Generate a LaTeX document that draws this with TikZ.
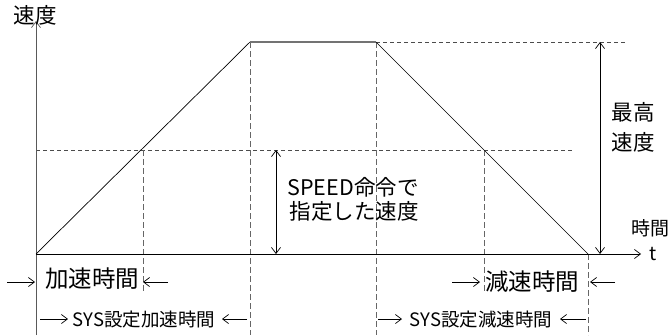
\documentclass[tikz,border=0pt]{standalone}
\usepackage{fontspec}
\setmainfont{Noto Sans CJK JP}
\usetikzlibrary{arrows.meta}
\begin{document}
\begin{tikzpicture}[x=1pt,y=-1pt,
  axisline/.style={draw=black!65, line width=0.9pt},
  curve/.style={draw=black, line width=0.7pt},
  topline/.style={draw=black!55, line width=1.3pt},
  vdash/.style={draw=black!60, line width=0.8pt, dash pattern=on 6pt off 3pt},
  hdash/.style={draw=black!70, line width=0.7pt, dash pattern=on 4pt off 3pt},
  openarr/.style={-{Straight Barb[length=6pt,width=9pt,line width=0.7pt]}, line width=0.7pt, draw=black},
  dblarr/.style={{Straight Barb[length=6pt,width=9pt,line width=0.7pt]}-{Straight Barb[length=6pt,width=9pt,line width=0.7pt]}, line width=0.8pt, draw=black},
  lbig/.style={font=\fontsize{23.5}{26}\selectfont, inner sep=0pt},
  lmid/.style={font=\fontsize{21.5}{26}\selectfont, inner sep=0pt},
  lsmall/.style={font=\fontsize{18.5}{20}\selectfont, inner sep=0pt},
  ltime/.style={font=\fontsize{19}{20}\selectfont, inner sep=0pt},
]
\useasboundingbox (0,0) rectangle (671,335);
% key points
\coordinate (O) at (36,254);
\coordinate (Ytop) at (36,21);
\coordinate (Xend) at (641,254);
\coordinate (P1) at (250,42);
\coordinate (P2) at (376,42);
\coordinate (P3) at (588,254);
\coordinate (Htop) at (625,42);
\coordinate (Mleft) at (36,150);
\coordinate (Mright) at (573,150);
\coordinate (Q1) at (143,150);
\coordinate (Q2) at (484,150);
\coordinate (Q1b) at (143,292);
\coordinate (Q2b) at (484,292);
\coordinate (P1b) at (250,335);
\coordinate (P2b) at (376,335);
\coordinate (P3b) at (588,335);
\coordinate (Obot) at (36,335);
\coordinate (Max1) at (600,42);
\coordinate (Max2) at (600,254);
\coordinate (Sp1) at (276,150);
\coordinate (Sp2) at (276,254);
% dashed guides
\path[hdash] (P2) -- (Htop);
\path[hdash] (Mleft) -- (Mright);
\path[vdash] (P1) -- (P1b);
\path[vdash] (P2) -- (P2b);
\path[vdash] (Q1) -- (Q1b);
\path[vdash] (Q2) -- (Q2b);
\path[vdash] (P3) -- (P3b);
% axes
\draw[axisline, -{Straight Barb[length=6pt,width=9pt,line width=0.7pt]}] (Obot) -- (Ytop);
\draw[line width=0.8pt, -{Straight Barb[length=6pt,width=9pt,line width=0.7pt]}] (O) -- (Xend);
% speed profile
\path[curve] (O) -- (P1);
\path[topline] (P1) -- (P2);
\path[curve] (P2) -- (P3);
% dimension arrows
\draw[dblarr] (Max1) -- (Max2);
\draw[dblarr] (Sp1) -- (Sp2);
% labels
\node[lmid] (vel) at (35,15) {速度};
\node[lmid] (max1) at (633,112) {最高};
\node[lmid] (max2) at (633,142) {速度};
\node[lmid] (sp1) at (353,187) {SPEED命令で};
\node[lmid] (sp2) at (354,211) {指定した速度};
\node[ltime] (time) at (650,228) {時間};
\node[ltime] (tlab) at (653,254) {t};
\node[lbig] (acc) at (92,279) {加速時間};
\node[lbig] (dec) at (532,282) {減速時間};
\node[lsmall] (sysacc) at (144,319) {SYS設定加速時間};
\node[lsmall] (sysdec) at (481,319) {SYS設定減速時間};
% bottom arrows
\coordinate (a1s) at (7,282); \coordinate (a1e) at (35,282);
\coordinate (a2s) at (168,282); \coordinate (a2e) at (143,282);
\coordinate (b1s) at (40,319); \coordinate (b1e) at (68,319);
\coordinate (b2s) at (247,319); \coordinate (b2e) at (222,319);
\coordinate (c1s) at (452,282); \coordinate (c1e) at (480,282);
\coordinate (c2s) at (615,282); \coordinate (c2e) at (590,282);
\coordinate (d1s) at (378,319); \coordinate (d1e) at (402,319);
\coordinate (d2s) at (586,319); \coordinate (d2e) at (560,319);
\foreach \s/\e in {a1s/a1e,a2s/a2e,b1s/b1e,b2s/b2e,c1s/c1e,c2s/c2e,d1s/d1e,d2s/d2e}
  \draw[openarr] (\s) -- (\e);
\end{tikzpicture}
\end{document}
